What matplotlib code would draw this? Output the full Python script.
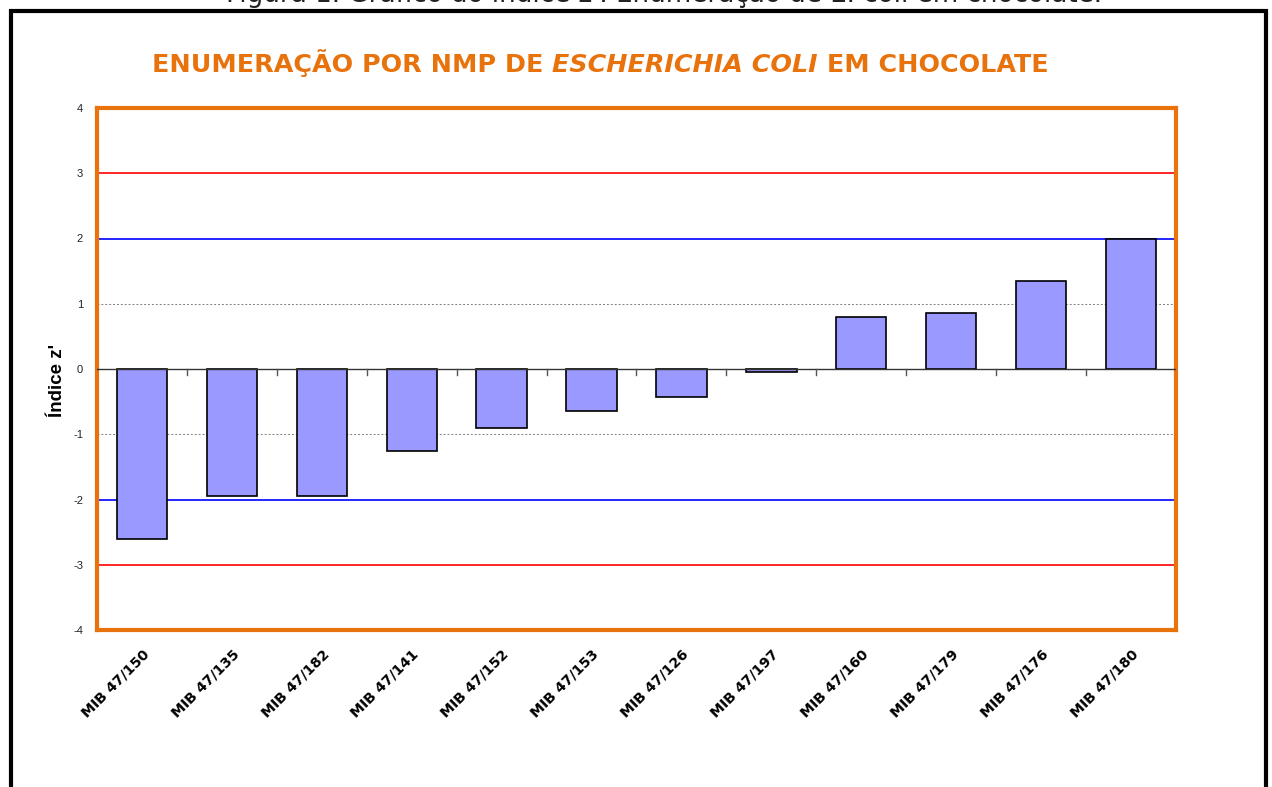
import matplotlib
matplotlib.use("Agg")
import matplotlib.pyplot as plt
from matplotlib.patches import Rectangle
import numpy as np

categories = ["MIB 47/150", "MIB 47/135", "MIB 47/182", "MIB 47/141", "MIB 47/152",
              "MIB 47/153", "MIB 47/126", "MIB 47/197", "MIB 47/160", "MIB 47/179",
              "MIB 47/176", "MIB 47/180"]
z_values = [-2.6, -1.95, -1.95, -1.25, -0.9, -0.65, -0.43, -0.04, 0.80, 0.86, 1.35, 2.0]
y_ticks = [-4, -3, -2, -1, 0, 1, 2, 3, 4]

W, H = 1272, 787
fig = plt.figure(figsize=(W / 100, H / 100), dpi=100)
fig.patch.set_facecolor("white")

# outer frame
fig.patches.append(Rectangle((11 / W, -0.05), (1266 - 11) / W, 1 - 11 / H + 0.05,
                             transform=fig.transFigure, fill=False,
                             edgecolor="black", linewidth=3))

# caption (cut at top, as in the reference)
fig.text(226 / W, 1 - 2.5 / H,
         "Figura 1. Gráfico do índice z'. Enumeração de E. coli em chocolate.",
         ha="left", va="baseline", fontsize=18.8, family="DejaVu Sans",
         color="#222222")

ax = fig.add_axes([97 / W, (H - 630) / H, 1079 / W, 522 / H])
x = np.arange(len(categories))
ax.bar(x, z_values, width=0.56, color="#9999FF", edgecolor="black", linewidth=1.2, zorder=3)

ax.set_xlim(-0.5, len(categories) - 0.5)
ax.set_ylim(-4, 4)

for yv, c, ls, lw in [(3, "#FF0000", "-", 1.2), (-3, "#FF0000", "-", 1.2),
                      (2, "#0000FF", "-", 1.2), (-2, "#0000FF", "-", 1.2),
                      (1, "#808080", (0, (2, 2)), 0.7), (-1, "#808080", (0, (2, 2)), 0.7)]:
    ax.axhline(yv, color=c, linestyle=ls, linewidth=lw, zorder=2)

ax.axhline(0, color="#333333", linewidth=1.0, zorder=4)

# boundary ticks on zero line
for b in np.arange(0.5, len(categories) - 0.5, 1.0):
    ax.plot([b, b], [0, -0.09], color="#555555", linewidth=1.0, zorder=4, clip_on=False)

for s in ax.spines.values():
    s.set_color("#E8720C")
    s.set_linewidth(3)

ax.set_yticks(y_ticks)
ax.set_yticklabels([str(v) for v in y_ticks], fontsize=8, family="Liberation Sans", color="#222222")
ax.tick_params(axis="y", length=0, pad=10)

ax.set_xticks(x)
ax.set_xticklabels(categories, rotation=45, ha="right", va="top", rotation_mode="anchor",
                   fontsize=10.2, fontweight="bold", family="DejaVu Sans")
ax.tick_params(axis="x", length=0, pad=12)

ax.set_ylabel("Índice z'", fontsize=13.5, fontweight="bold", family="Liberation Sans")
ax.yaxis.set_label_coords((66 - 97) / 1079, (630 - 380) / 522)

# title in three parts (italic middle), scaled to reference width
def draw_title(fs):
    y = 1 - 72 / H
    parts = [("ENUMERAÇÃO POR NMP DE ", "normal"), ("ESCHERICHIA COLI", "italic"),
             (" EM CHOCOLATE", "normal")]
    xs = 152
    arts = []
    fig.canvas.draw()
    r = fig.canvas.get_renderer()
    for txt, st in parts:
        t = fig.text(xs / W, y, txt, ha="left", va="baseline", fontsize=fs,
                     fontweight="bold", fontstyle=st, family="DejaVu Sans", color="#E8720C")
        bb = t.get_window_extent(r)
        xs = bb.x1
        arts.append(t)
    return arts, xs - 152

arts, width = draw_title(18)
target = 1048 - 152
for a in arts:
    a.remove()
draw_title(18 * target / width)

fig.savefig("out.png", dpi=100, facecolor="white")
